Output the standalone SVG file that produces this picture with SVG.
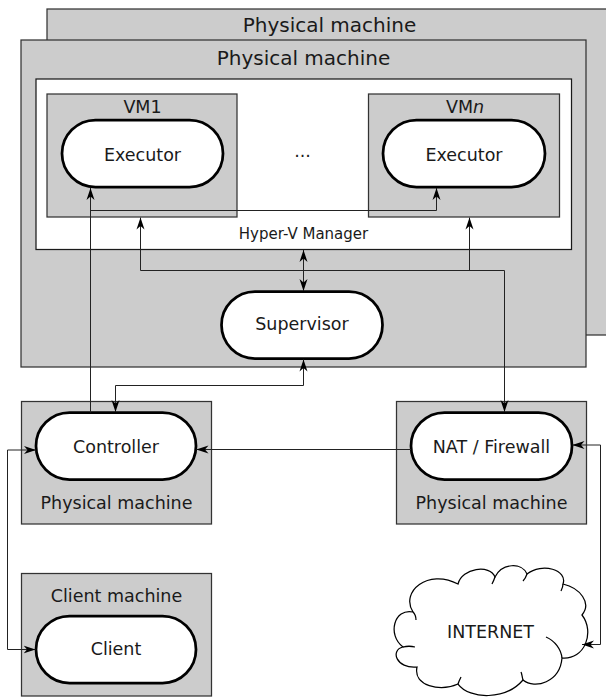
<svg xmlns="http://www.w3.org/2000/svg" width="606" height="698" viewBox="0 0 606 698">
<style>
  .box { fill: #cccccc; stroke: #333333; stroke-width: 1.25; }
  .white { fill: #ffffff; stroke: #1a1a1a; stroke-width: 1.25; }
  .pill { fill: #ffffff; stroke: #000000; stroke-width: 2.75; }
  text { font-family: "DejaVu Sans", Verdana, sans-serif; fill: #1a1a1a; text-anchor: middle; }
  .t20 { font-size: 20px; }
  .t17 { font-size: 17.5px; }
  .t15 { font-size: 15px; }
  .conn { fill: none; stroke: #222222; stroke-width: 1; }
  .cloud { fill: #ffffff; stroke: #000000; stroke-width: 1.25; }
  .inner { fill: none; stroke: #000000; stroke-width: 1.25; }
</style>
<defs>
  <marker id="arr" viewBox="0 0 12 10" refX="12" refY="5" markerWidth="12" markerHeight="10" markerUnits="userSpaceOnUse" orient="auto-start-reverse">
    <path d="M0,1 L12,5 L0,9 L3.5,5 Z" fill="#000000"/>
  </marker>
</defs>

<g id="pm-back">
  <rect class="box" x="47" y="9" width="600" height="326"/>
  <text class="t20" x="329.5" y="31.5">Physical machine</text>
</g>

<g id="pm-front">
  <rect class="box" x="21" y="40" width="565" height="327"/>
  <text class="t20" x="303.5" y="65">Physical machine</text>
</g>

<g id="hyperv">
  <rect class="white" x="36" y="79" width="535.5" height="170.5"/>
  <text class="t15" x="303.5" y="238.5">Hyper-V Manager</text>
</g>

<g id="vm1">
  <rect class="box" x="47" y="94" width="190" height="123"/>
  <text class="t17" x="142.5" y="113">VM1</text>
</g>
<g id="executor1">
  <rect class="pill" x="62" y="120" width="161" height="67" rx="33.5" ry="33.5"/>
  <text class="t17" x="142.5" y="161">Executor</text>
</g>

<g id="ellipsis">
  <text class="t17" x="302.5" y="157">...</text>
</g>

<g id="vmn">
  <rect class="box" x="368.5" y="94" width="191" height="123"/>
  <text class="t17" x="465" y="113">VM<tspan font-style="italic">n</tspan></text>
</g>
<g id="executorn">
  <rect class="pill" x="383" y="120" width="162" height="67" rx="33.5" ry="33.5"/>
  <text class="t17" x="464" y="161">Executor</text>
</g>

<g id="supervisor">
  <rect class="pill" x="221.5" y="291.5" width="161" height="67" rx="33.5" ry="33.5"/>
  <text class="t17" x="302" y="330">Supervisor</text>
</g>

<g id="controller-machine">
  <rect class="box" x="21.5" y="401.5" width="190" height="122.5"/>
  <text class="t17" x="116.5" y="509">Physical machine</text>
</g>
<g id="controller">
  <rect class="pill" x="36" y="412.5" width="160" height="67" rx="33.5" ry="33.5"/>
  <text class="t17" x="116" y="453">Controller</text>
</g>

<g id="nat-machine">
  <rect class="box" x="396.5" y="401.5" width="190" height="122.5"/>
  <text class="t17" x="491.5" y="509">Physical machine</text>
</g>
<g id="nat">
  <rect class="pill" x="411" y="412.5" width="161" height="67" rx="33.5" ry="33.5"/>
  <text class="t17" x="491.5" y="453">NAT / Firewall</text>
</g>

<g id="client-machine">
  <rect class="box" x="21.5" y="573.5" width="190" height="122.5"/>
  <text class="t17" x="116.5" y="601.5">Client machine</text>
</g>
<g id="client">
  <rect class="pill" x="36" y="616" width="160" height="67" rx="33.5" ry="33.5"/>
  <text class="t17" x="116" y="655">Client</text>
</g>

<g id="internet">
  <path class="cloud" d="M 413,612 C 400,592 428,568 458,584 C 462,568 490,564 495,577 C 502,563 522,562 527,574 C 542,562 568,570 563,584 C 580,588 592,603 582,615 C 595,632 585,660 562,658 C 560,682 535,690 523,680 C 506,700 470,700 458,684 C 440,692 413,686 417,667 C 396,669 390,650 403,647 C 387,635 394,608 413,612 Z"/>
  <path class="inner" d="M 413,612 C 415,614 416,617 416,620 M 495,577 C 494,580 493,582 492,584 M 527,574 C 526,577 525,579 523,581 M 563,584 C 563,587 562,589 561,591 M 546,637 C 555,641 561,649 562,658 M 523,680 C 522,677 522,674 521,672 M 458,684 C 459,681 460,679 461,677 M 403,647 C 407,646 411,646 415,647"/>
  <text class="t17" x="490.5" y="637.5">INTERNET</text>
</g>

<g id="connectors">
  <path class="conn" d="M 90.5 412.5 V 188" marker-end="url(#arr)"/>
  <path class="conn" d="M 90.5 210.5 H 436.5 V 188" marker-end="url(#arr)"/>
  <path class="conn" d="M 140.5 217.5 V 270.5 H 504.5 V 412" marker-start="url(#arr)" marker-end="url(#arr)"/>
  <path class="conn" d="M 469.5 270.5 V 217.5" marker-end="url(#arr)"/>
  <path class="conn" d="M 303.5 250 V 291" marker-start="url(#arr)" marker-end="url(#arr)"/>
  <path class="conn" d="M 303.5 359.5 V 385.5 H 115.5 V 412" marker-start="url(#arr)" marker-end="url(#arr)"/>
  <path class="conn" d="M 411 449.5 H 196.5" marker-end="url(#arr)"/>
  <path class="conn" d="M 36 450 H 7.5 V 649.5 H 35.5" marker-start="url(#arr)" marker-end="url(#arr)"/>
  <path class="conn" d="M 572.5 445 H 600.5 V 644.5 H 582" marker-start="url(#arr)" marker-end="url(#arr)"/>
</g>
</svg>
